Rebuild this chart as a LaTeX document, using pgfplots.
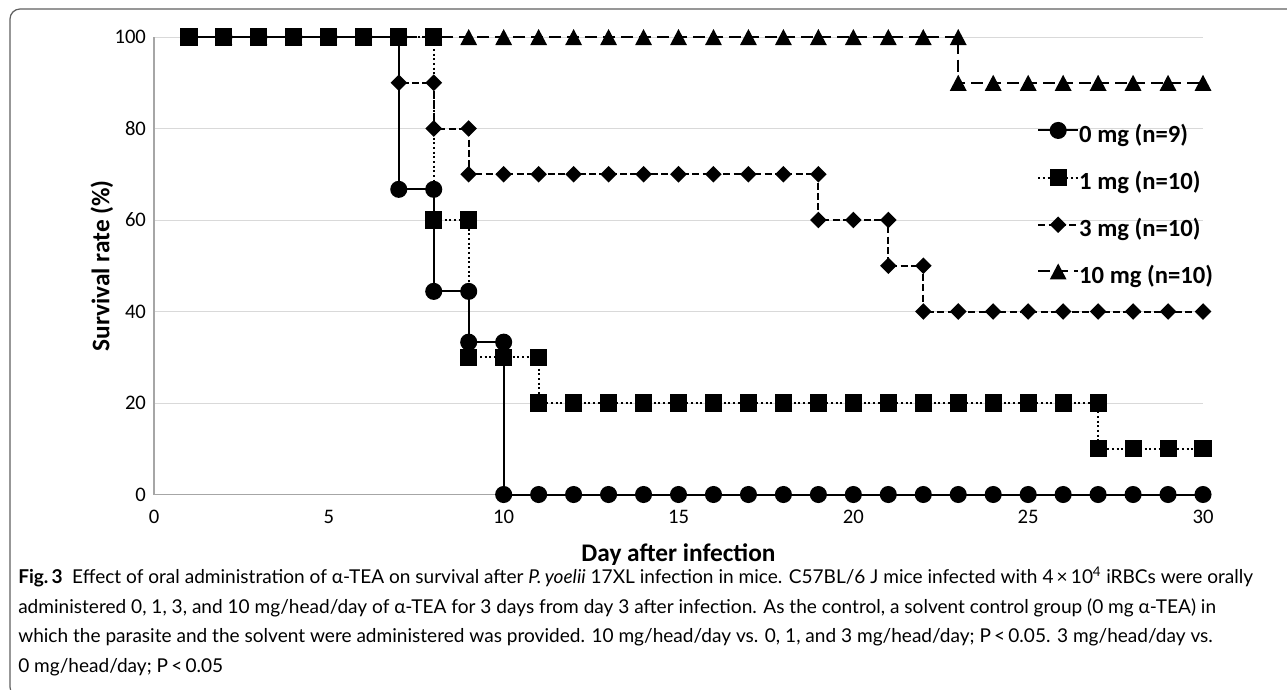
\documentclass[border=0pt]{standalone}
\usepackage{pgfplots}
\pgfplotsset{compat=1.18}
\usepackage{fontspec}
\setmainfont{Carlito}
\newfontfamily\capfont{Lato}
\definecolor{gridc}{HTML}{D9D9D9}
\definecolor{axc}{HTML}{A6A6A6}
\definecolor{boxc}{HTML}{606060}
\pgfdeclareplotmark{xsquare}{\pgfpathrectangle{\pgfqpoint{-6.4pt}{-6.4pt}}{\pgfqpoint{12.8pt}{12.8pt}}\pgfusepathqfill}
\pgfdeclareplotmark{xcircle}{\pgfpathcircle{\pgfpointorigin}{6.4pt}\pgfusepathqfill}
\pgfdeclareplotmark{xdiamond}{\pgfpathmoveto{\pgfqpoint{0pt}{6.2pt}}\pgfpathlineto{\pgfqpoint{6.2pt}{0pt}}\pgfpathlineto{\pgfqpoint{0pt}{-6.2pt}}\pgfpathlineto{\pgfqpoint{-6.2pt}{0pt}}\pgfpathclose\pgfusepathqfill}
\pgfdeclareplotmark{xtri}{\pgfpathmoveto{\pgfqpoint{0pt}{6pt}}\pgfpathlineto{\pgfqpoint{6.3pt}{-6pt}}\pgfpathlineto{\pgfqpoint{-6.3pt}{-6pt}}\pgfpathclose\pgfusepathqfill}
\begin{document}
\begin{tikzpicture}[x=0.75pt,y=0.75pt]
\path[use as bounding box] (0,0) rectangle (1287,-689);
\begin{scope}
\clip (0,0) rectangle (1287,-689);
\draw[boxc, line width=0.9pt, rounded corners=7.5pt] (1300,-9) -- (10,-9) -- (10,-697) -- (1300,-697);
\end{scope}
\begin{axis}[
  at={(115.5pt,-370.875pt)}, anchor=south west,
  scale only axis, width=786.75pt, height=343.125pt,
  xmin=0, xmax=30, ymin=0, ymax=100,
  xtick={0,5,...,30}, ytick={0,20,...,100},
  axis x line*=bottom, axis y line*=left,
  axis line style={axc, line width=1pt},
  major tick length=0pt,
  ymajorgrids, grid style={gridc, line width=0.75pt},
  clip=false,
  /pgf/number format/assume math mode=true,
  tick label style={font=\fontsize{15.5}{18}\selectfont},
  xticklabel style={yshift=-8pt},
  yticklabel style={xshift=-2.5pt},
  xlabel={Day after infection},
  ylabel={Survival rate (\%)},
  label style={font=\bfseries\fontsize{19}{22}\selectfont},
  xlabel style={at={(axis description cs:0.5,-0.1310)}, anchor=center},
  ylabel style={at={(axis description cs:-0.0496,0.5)}, anchor=center},
  legend style={at={(axis cs:25.25,81.5)}, anchor=north west, draw=none, fill=none,
    inner sep=0pt, font=\bfseries\fontsize{18.5}{22}\selectfont,
    nodes={inner sep=0pt, text height=13pt, text depth=4.5pt},
    row sep=15.8pt,
    /tikz/every even column/.append style={column sep=3pt}},
  legend cell align=left,
  legend image code/.code={\draw[mark repeat=2,mark phase=2,#1] plot coordinates {(0pt,4.5pt) (15pt,4.5pt) (30pt,4.5pt)};},
  every axis plot/.append style={line width=1.5pt, black, mark options={solid}},
]
\addplot[mark=xcircle, solid] coordinates {
(1,100)(2,100)(3,100)(4,100)(5,100)(6,100)(7,100)(7,66.7)(8,66.7)(8,44.4)(9,44.4)(9,33.3)(10,33.3)(10,0)
(11,0)(12,0)(13,0)(14,0)(15,0)(16,0)(17,0)(18,0)(19,0)(20,0)(21,0)(22,0)(23,0)(24,0)(25,0)(26,0)(27,0)(28,0)(29,0)(30,0)};
\addlegendentry{0 mg (n=9)}
\addplot[mark=xsquare, dash pattern=on 1.5pt off 2pt] coordinates {
(1,100)(2,100)(3,100)(4,100)(5,100)(6,100)(7,100)(8,100)(8,60)(9,60)(9,30)(10,30)(11,30)(11,20)
(12,20)(13,20)(14,20)(15,20)(16,20)(17,20)(18,20)(19,20)(20,20)(21,20)(22,20)(23,20)(24,20)(25,20)(26,20)(27,20)
(27,10)(28,10)(29,10)(30,10)};
\addlegendentry{1 mg (n=10)}
\addplot[mark=xdiamond, dash pattern=on 5.25pt off 2.5pt] coordinates {
(1,100)(2,100)(3,100)(4,100)(5,100)(6,100)(7,100)(7,90)(8,90)(8,80)(9,80)(9,70)
(10,70)(11,70)(12,70)(13,70)(14,70)(15,70)(16,70)(17,70)(18,70)(19,70)(19,60)(20,60)(21,60)(21,50)(22,50)(22,40)
(23,40)(24,40)(25,40)(26,40)(27,40)(28,40)(29,40)(30,40)};
\addlegendentry{3 mg (n=10)}
\addplot[mark=xtri, dash pattern=on 9pt off 4.5pt] coordinates {
(1,100)(2,100)(3,100)(4,100)(5,100)(6,100)(7,100)(8,100)(9,100)(10,100)(11,100)(12,100)(13,100)(14,100)(15,100)
(16,100)(17,100)(18,100)(19,100)(20,100)(21,100)(22,100)(23,100)(23,90)(24,90)(25,90)(26,90)(27,90)(28,90)(29,90)(30,90)};
\addlegendentry{10 mg (n=10)}
\end{axis}
\node[anchor=base west, align=left, inner sep=0pt, font=\capfont\fontsize{14.3}{22.1}\selectfont] at (18,-672)
{{\bfseries Fig.\,3}\enspace Effect of oral administration of α-TEA on survival after \textit{P.\,yoelii} 17XL infection in mice. C57BL/6 J mice infected with 4\,×\,10\textsuperscript{4} iRBCs were orally\\
administered 0, 1, 3, and 10 mg/head/day of α-TEA for 3 days from day 3 after infection. As the control, a solvent control group (0 mg α-TEA) in\\
which the parasite and the solvent were administered was provided. 10 mg/head/day vs. 0, 1, and 3 mg/head/day; P\,<\,0.05. 3 mg/head/day vs.\\
0 mg/head/day; P\,<\,0.05};
\end{tikzpicture}
\end{document}
